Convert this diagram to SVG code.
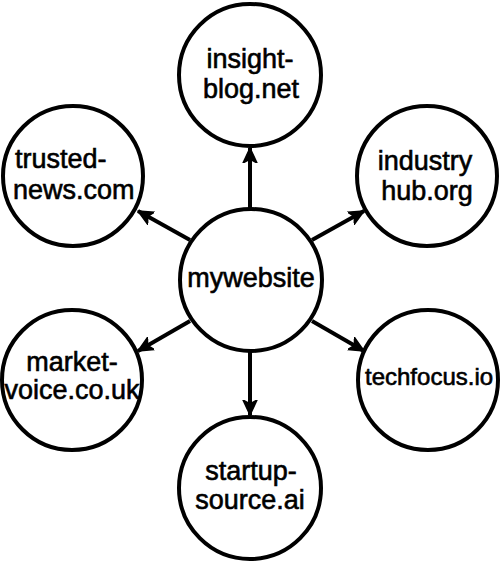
<svg xmlns="http://www.w3.org/2000/svg" width="500" height="562" viewBox="0 0 500 562">
<defs>
<style>
.node circle{fill:none;stroke:#000;stroke-width:4}
.node text{font-family:"Liberation Sans",Arial,Helvetica,sans-serif;font-size:27px;fill:#000;stroke:#000;stroke-width:0.6;text-anchor:middle}
.edge{stroke:#000;stroke-width:4;fill:none;marker-end:url(#arrow)}
</style>
<marker id="arrow" markerUnits="userSpaceOnUse" viewBox="0 0 16 16" markerWidth="16" markerHeight="16" refX="15" refY="8" orient="auto">
<path d="M0,1 L15,8 L0,15 L4,8 Z" fill="#000" stroke="#000" stroke-width="1.5" stroke-linejoin="round"/>
</marker>
</defs>
<rect width="500" height="562" fill="#fff"/>
<g id="connectors">
<line class="edge" x1="250" y1="208" x2="250" y2="148"/>
<line class="edge" x1="190" y1="240" x2="138" y2="211"/>
<line class="edge" x1="312" y1="240" x2="364" y2="211"/>
<line class="edge" x1="190" y1="321" x2="138" y2="351"/>
<line class="edge" x1="312" y1="321" x2="364" y2="351"/>
<line class="edge" x1="250" y1="352" x2="250" y2="415"/>
</g>
<g id="mywebsite" class="node">
<circle cx="251" cy="280" r="71"/>
<text x="251" y="287">mywebsite</text>
</g>
<g id="insight-blog" class="node">
<circle cx="250" cy="75" r="71"/>
<text x="250" y="68">insight-</text>
<text x="251" y="98">blog.net</text>
</g>
<g id="trusted-news" class="node">
<circle cx="73" cy="176" r="70"/>
<text x="15" y="168" style="text-anchor:start">trusted-</text>
<text x="13" y="199" style="text-anchor:start">news.com</text>
</g>
<g id="industry-hub" class="node">
<circle cx="427" cy="176" r="70"/>
<text x="425" y="170">industry</text>
<text x="427" y="200">hub.org</text>
</g>
<g id="market-voice" class="node">
<circle cx="72" cy="380" r="70"/>
<text x="72" y="371">market-</text>
<text x="72" y="399">voice.co.uk</text>
</g>
<g id="techfocus" class="node">
<circle cx="428" cy="380" r="70"/>
<text x="365" y="385" style="text-anchor:start;font-size:24px">techfocus.io</text>
</g>
<g id="startup-source" class="node">
<circle cx="250" cy="488" r="71"/>
<text x="251" y="480">startup-</text>
<text x="250" y="509">source.ai</text>
</g>
</svg>
